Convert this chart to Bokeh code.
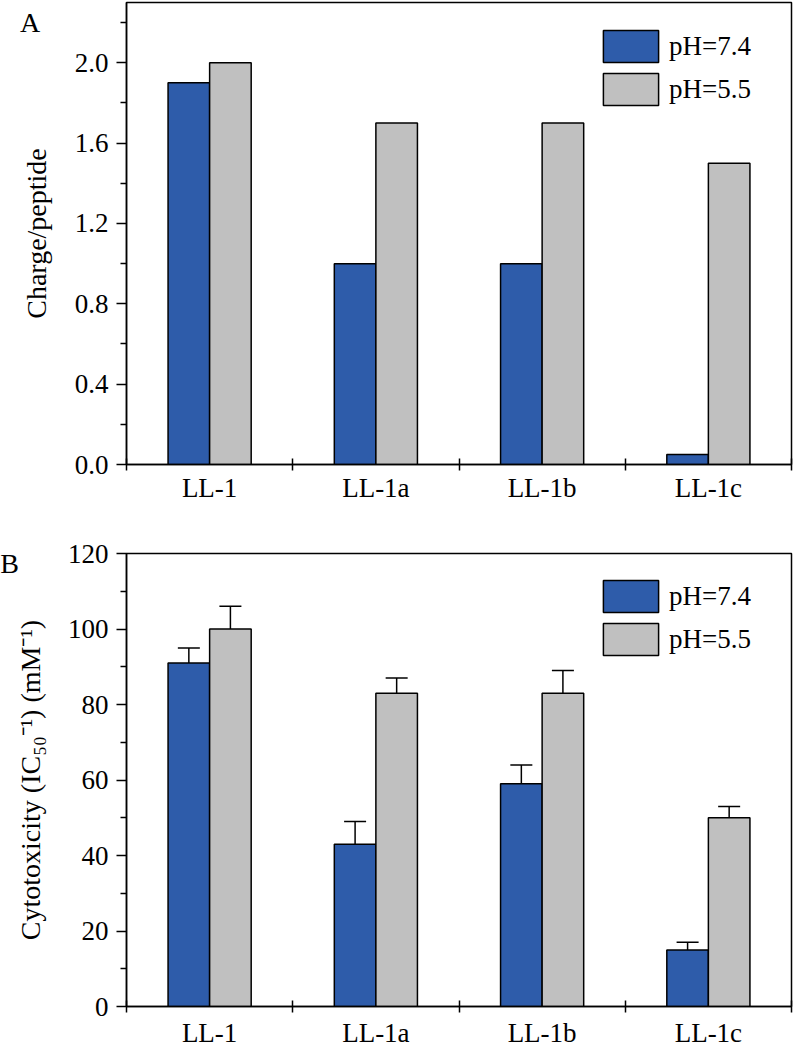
import numpy as np
from bokeh.plotting import figure
from bokeh.layouts import column
from bokeh.models import (ColumnDataSource, Range1d, FixedTicker, CustomJSTickFormatter,
                          PrintfTickFormatter, Legend, LegendItem)
from bokeh.core.properties import value
from bokeh.transform import dodge
from bokeh.embed import file_html
from bokeh.resources import INLINE

# ---------------- data ----------------
categories = ["LL-1", "LL-1a", "LL-1b", "LL-1c"]
series = ["pH=7.4", "pH=5.5"]

charge_ph74 = [1.9, 1.0, 1.0, 0.05]
charge_ph55 = [2.0, 1.7, 1.7, 1.5]

cyto_ph74 = [91, 43, 59, 15]
cyto_ph55 = [100, 83, 83, 50]
cyto_err_ph74 = [4, 6, 5, 2]
cyto_err_ph55 = [6, 4, 6, 3]

charge_ticks = [0.0, 0.4, 0.8, 1.2, 1.6, 2.0]
charge_minor = [0.2, 0.6, 1.0, 1.4, 1.8, 2.2]
cyto_ticks = [0, 20, 40, 60, 80, 100, 120]
cyto_minor = [10, 30, 50, 70, 90, 110]

BLUE = "#2e5caa"
GRAY = "#c0c0c0"
FONT = "Liberation Serif"
W = 805


def make_panel(letter, ylabel, ymax, ticks, minor, fmt, v74, v55, e74=None, e55=None,
               height=500, mbt=2, mbb=42, mbr=4, letter_xy=(-0.6, 2.2),
               label_standoff=22, x_standoff=3):
    n = len(categories)
    xc = list(np.arange(n) + 0.5)
    data = dict(x=xc, cat=categories, v74=v74, v55=v55)
    if e74 is not None:
        data["t74"] = [v + e for v, e in zip(v74, e74)]
        data["t55"] = [v + e for v, e in zip(v55, e55)]
    src = ColumnDataSource(data)

    p = figure(width=W, height=height, x_range=Range1d(0, n), y_range=Range1d(0, ymax),
               output_backend="svg", toolbar_location=None,
               min_border_left=126, min_border_right=mbr,
               min_border_top=mbt, min_border_bottom=mbb)
    p.xgrid.visible = False
    p.ygrid.visible = False
    p.outline_line_color = "black"
    p.outline_line_width = 1.5
    p.outline_line_alpha = 1.0
    p.background_fill_color = "white"
    p.border_fill_color = "white"

    # x axis
    xa = p.xaxis[0]
    xa.ticker = FixedTicker(ticks=xc, minor_ticks=list(range(n + 1)))
    xa.formatter = CustomJSTickFormatter(args=dict(cats=categories),
                                         code="return cats[Math.floor(tick)];")
    xa.major_tick_in = 0
    xa.major_tick_out = 0
    xa.minor_tick_in = 6
    xa.minor_tick_out = 6
    xa.minor_tick_line_color = "black"
    xa.minor_tick_line_width = 1.5
    xa.axis_line_color = "black"
    xa.axis_line_width = 1.5
    xa.major_label_text_font = FONT
    xa.major_label_text_font_size = "27px"
    xa.major_label_text_color = "black"
    xa.major_label_standoff = x_standoff

    # y axis
    ya = p.yaxis[0]
    ya.ticker = FixedTicker(ticks=ticks, minor_ticks=minor)
    if fmt:
        ya.formatter = PrintfTickFormatter(format=fmt)
    ya.major_tick_in = 0
    ya.major_tick_out = 10
    ya.minor_tick_in = 0
    ya.minor_tick_out = 6
    ya.major_tick_line_color = "black"
    ya.minor_tick_line_color = "black"
    ya.major_tick_line_width = 1.5
    ya.minor_tick_line_width = 1.5
    ya.axis_line_color = "black"
    ya.axis_line_width = 1.5
    ya.major_label_text_font = FONT
    ya.major_label_text_font_size = "27px"
    ya.major_label_text_color = "black"
    ya.major_label_standoff = 8
    ya.axis_label = ylabel
    ya.axis_label_text_font = FONT
    ya.axis_label_text_font_size = "28px"
    ya.axis_label_text_font_style = "normal"
    ya.axis_label_text_color = "black"
    ya.axis_label_standoff = label_standoff

    r1 = p.vbar(x=dodge("x", -0.125, range=p.x_range), top="v74", width=0.25, bottom=0,
                fill_color=BLUE, line_color="black", line_width=1.5, source=src)
    r2 = p.vbar(x=dodge("x", 0.125, range=p.x_range), top="v55", width=0.25, bottom=0,
                fill_color=GRAY, line_color="black", line_width=1.5, source=src)

    if e74 is not None:
        for off, vcol, tcol in ((-0.125, "v74", "t74"), (0.125, "v55", "t55")):
            p.segment(x0=dodge("x", off, range=p.x_range), y0=vcol,
                      x1=dodge("x", off, range=p.x_range), y1=tcol,
                      line_color="black", line_width=1.5, source=src)
            p.scatter(x=dodge("x", off, range=p.x_range), y=tcol, marker="dash", size=22,
                      line_color="black", line_width=1.5, source=src)

    frame_h = height - mbt - mbb
    gw, gh, gap = 69, 40, 3
    legend_h = gh * 2 + gap
    legend = Legend(items=[LegendItem(label=series[0], renderers=[r1]),
                           LegendItem(label=series[1], renderers=[r2])],
                    location=(470, frame_h - 24 - legend_h),
                    glyph_width=gw, glyph_height=gh, spacing=gap, label_standoff=4,
                    padding=0, margin=0, border_line_alpha=0, background_fill_alpha=0,
                    label_text_font=FONT, label_text_font_size="27px",
                    label_text_color="black")
    p.add_layout(legend)

    # panel letter (drawn on the overlay level so it is not clipped to the frame)
    lsrc = ColumnDataSource(dict(x=[letter_xy[0]], y=[letter_xy[1]], t=[letter]))
    p.text(x="x", y="y", text="t", source=lsrc, text_font=value(FONT),
           text_font_size=value("28px"), text_color="black",
           text_baseline="alphabetic", level="overlay")
    return p


p1 = make_panel("A", "Charge/peptide", 2.3, charge_ticks, charge_minor, "%.1f",
                charge_ph74, charge_ph55, height=510, mbt=2, mbb=46, mbr=3,
                letter_xy=(-0.64, 2.2), label_standoff=20, x_standoff=2)
p2 = make_panel("B", "Cytotoxicity (IC\u2085\u2080\u207b\u00b9) (mM\u207b\u00b9)", 120,
                cyto_ticks, cyto_minor, None,
                cyto_ph74, cyto_ph55, cyto_err_ph74, cyto_err_ph55,
                height=540, mbt=43, mbb=43, mbr=14,
                letter_xy=(-0.76, 117.4), label_standoff=19, x_standoff=5)

layout = column(p1, p2)
open("out.html", "w").write(file_html(layout, INLINE))
